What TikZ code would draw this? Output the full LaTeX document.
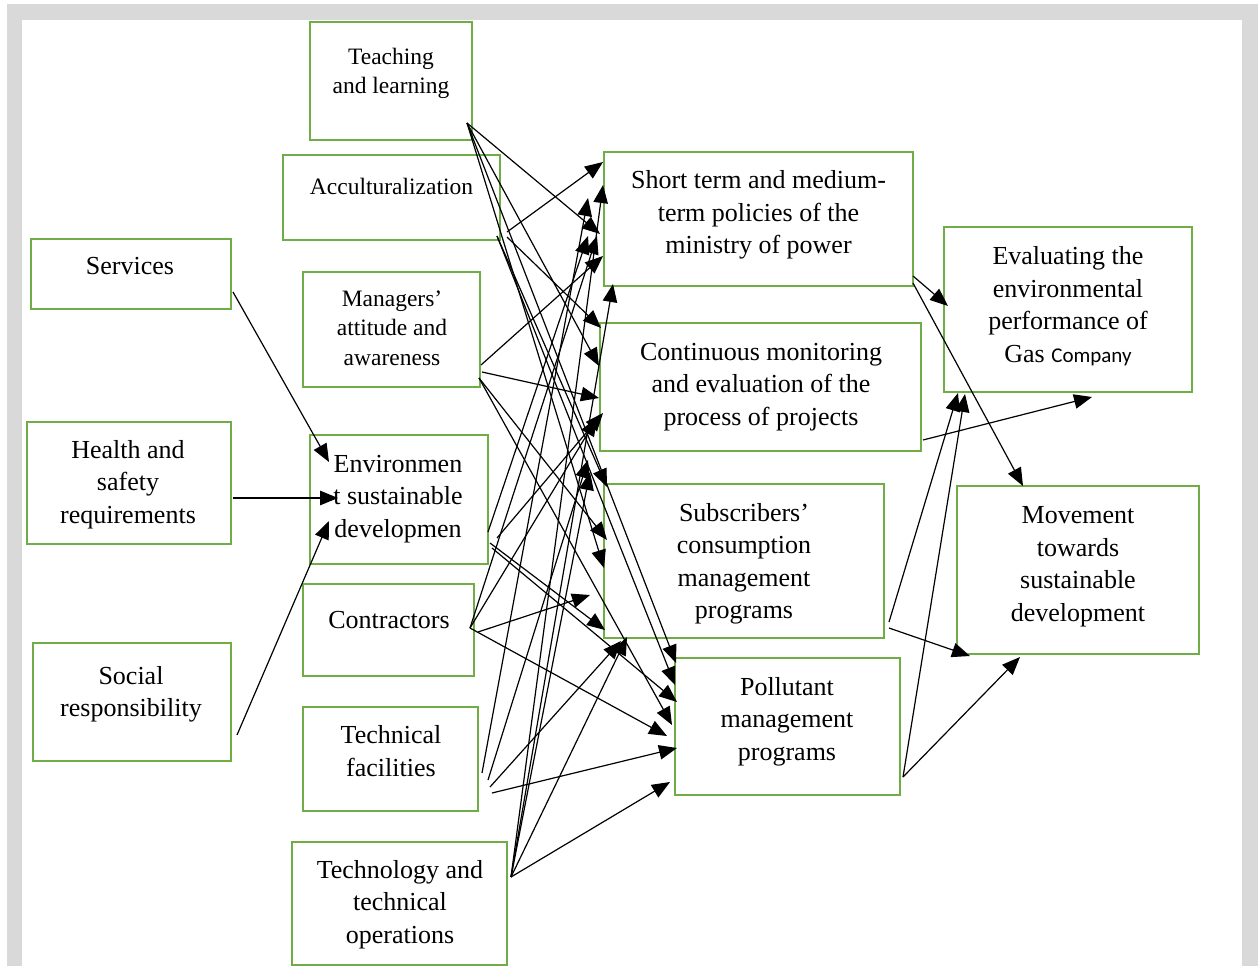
\documentclass[tikz,border=0pt]{standalone}
\usepackage{fontspec}
\setmainfont{Liberation Serif}
\newfontfamily\calib{Carlito}
\usetikzlibrary{arrows.meta}
\definecolor{boxgreen}{RGB}{112,173,71}
\definecolor{framegray}{RGB}{217,217,217}
\begin{document}
\begin{tikzpicture}[x=1pt,y=-1pt,
  box/.style={draw=boxgreen, line width=2.6pt, rectangle, inner sep=0pt},
  big/.style={align=center, font=\fontsize{26}{32.5}\selectfont, inner sep=0pt},
  small/.style={align=center, font=\fontsize{23.5}{29.5}\selectfont, inner sep=0pt},
  arr/.style={-{Triangle[length=18pt,width=14.5pt]}, line width=1.2pt}]
\useasboundingbox (0,0) rectangle (1258,966);
\fill[framegray] (7,4) rectangle (1258,966);
\fill[white] (22,20) rectangle (1242,966);

% boxes
\node[box, minimum width=162pt, minimum height=118pt] (teach) at (391,81) {};
\node[box, minimum width=217pt, minimum height=85pt] (accu) at (391.5,197.5) {};
\node[box, minimum width=200pt, minimum height=70pt] (serv) at (131,274) {};
\node[box, minimum width=177pt, minimum height=115pt] (mana) at (391.5,329.5) {};
\node[box, minimum width=309pt, minimum height=134pt] (short) at (758.5,219) {};
\node[box, minimum width=321pt, minimum height=128pt] (cont) at (760.5,387) {};
\node[box, minimum width=248pt, minimum height=165pt] (eval) at (1068,309.5) {};
\node[box, minimum width=204pt, minimum height=122pt] (health) at (129,483) {};
\node[box, minimum width=178pt, minimum height=129pt] (envi) at (399,499.5) {};
\node[box, minimum width=280pt, minimum height=154pt] (subs) at (744,561) {};
\node[box, minimum width=242pt, minimum height=168pt] (move) at (1078,570) {};
\node[box, minimum width=171pt, minimum height=92pt] (contr) at (388.5,630) {};
\node[box, minimum width=198pt, minimum height=118pt] (social) at (132,702) {};
\node[box, minimum width=225pt, minimum height=137pt] (poll) at (787.5,726.5) {};
\node[box, minimum width=175pt, minimum height=104pt] (tfac) at (390.5,759) {};
\node[box, minimum width=215pt, minimum height=123pt] (tech) at (399.5,903.5) {};

% texts
\node[small] (teachT) at (391,73) {\strut Teaching\\\strut and learning};
\node[small] (accuT) at (391.5,189) {\strut Acculturalization};
\node[big] (servT) at (130,268) {\strut Services};
\node[small] (manaT) at (392,330) {\strut Managers'\\\strut attitude and\\\strut awareness};
\node[big] (shortT) at (758.5,214.5) {\strut Short term and medium-\\\strut term policies of the\\\strut ministry of power};
\node[big] (contT) at (761,386) {\strut Continuous monitoring\\\strut and evaluation of the\\\strut process of projects};
\node[big] (evalT) at (1068,307) {\strut Evaluating the\\\strut environmental\\\strut performance of\\\strut Gas {\calib\fontsize{21}{32.5}\selectfont Company}};
\node[big] (healthT) at (128,484) {\strut Health and\\\strut safety\\\strut requirements};
\node[big] (enviT) at (398,498) {\strut Environmen\\\strut t sustainable\\\strut developmen};
\node[big] (subsT) at (744,563.5) {\strut Subscribers'\\\strut consumption\\\strut management\\\strut programs};
\node[big] (moveT) at (1078,566) {\strut Movement\\\strut towards\\\strut sustainable\\\strut development};
\node[big] (contrT) at (389,622) {\strut Contractors};
\node[big] (socialT) at (131,694) {\strut Social\\\strut responsibility};
\node[big] (pollT) at (787,721) {\strut Pollutant\\\strut management\\\strut programs};
\node[big] (tfacT) at (391,753.5) {\strut Technical\\\strut facilities};
\node[big] (techT) at (400,904) {\strut Technology and\\\strut technical\\\strut operations};

% source points
\coordinate (T) at (467,123);
\coordinate (A1) at (507,232);
\coordinate (A2) at (507,237);
\coordinate (A3) at (497,236);
\coordinate (M1) at (481,365);
\coordinate (M2) at (482,372);
\coordinate (M3) at (479,378);
\coordinate (E1) at (488,532);
\coordinate (E2) at (497,538);
\coordinate (E3) at (490,543);
\coordinate (E4) at (492,548);
\coordinate (C1) at (470,628);
\coordinate (C2) at (478,632);
\coordinate (F1) at (482,773);
\coordinate (F2) at (488,780);
\coordinate (F3) at (490,787);
\coordinate (F4) at (492,793);
\coordinate (G) at (511,877);
\coordinate (Sv) at (233,292);
\coordinate (Hs) at (233,498);
\coordinate (So) at (237,735);
\coordinate (ST1) at (913,276);
\coordinate (ST2) at (913,283);
\coordinate (CO) at (923,440);
\coordinate (SB1) at (889,622);
\coordinate (SB2) at (889,628);
\coordinate (PO) at (903,777);

% target points
\coordinate (ts1) at (603,162);
\coordinate (ts2) at (603,185);
\coordinate (ts3) at (588,198);
\coordinate (ts4) at (600,234);
\coordinate (ts5) at (597,236);
\coordinate (ts6) at (588,236);
\coordinate (ts7) at (603,256);
\coordinate (ts8) at (613,284);
\coordinate (tc1) at (601,328);
\coordinate (tc2) at (599,366);
\coordinate (tc3) at (599,398);
\coordinate (tc4) at (603,413);
\coordinate (tc5) at (597,418);
\coordinate (tc6) at (588,460);
\coordinate (tc7) at (590,472);
\coordinate (tb1) at (607,487);
\coordinate (tb2) at (607,540);
\coordinate (tb3) at (604,568);
\coordinate (tb4) at (590,595);
\coordinate (tb5) at (605,630);
\coordinate (tb6) at (621,641);
\coordinate (tb7) at (627,637);
\coordinate (tp1) at (676,663);
\coordinate (tp2) at (675,685);
\coordinate (tp3) at (677,702);
\coordinate (tp4) at (672,725);
\coordinate (tp5) at (667,736);
\coordinate (tp6) at (677,748);
\coordinate (tp7) at (670,782);
\coordinate (te1) at (948,306);
\coordinate (te2) at (1092,397);
\coordinate (te3) at (958,393);
\coordinate (te4) at (965,394);
\coordinate (tm1) at (1023,486);
\coordinate (tm2) at (970,656);
\coordinate (tm3) at (1020,657);
\coordinate (tv1) at (329,462);
\coordinate (tv2) at (338,498);
\coordinate (tv3) at (329,521);

% left arrows
\draw[arr] (Sv) -- (tv1);
\draw[arr] (Hs) -- (tv2);
\draw[arr] (So) -- (tv3);

% teaching
\draw[arr] (T) -- (ts4);
\draw[arr] (T) -- (tc2);
\draw[arr] (T) -- (tb3);
\draw[arr] (T) -- (tp1);
% acculturalization
\draw[arr] (A1) -- (ts1);
\draw[arr] (A2) -- (tc1);
\draw[arr] (A3) -- (tb1);
\draw[arr] (A3) -- (tp2);
% managers
\draw[arr] (M1) -- (ts7);
\draw[arr] (M2) -- (tc3);
\draw[arr] (M3) -- (tb2);
\draw[arr] (M3) -- (tp4);
% environment
\draw[arr] (E1) -- (ts6);
\draw[arr] (E2) -- (tc4);
\draw[arr] (E3) -- (tb5);
\draw[arr] (E4) -- (tp3);
% contractors
\draw[arr] (C1) -- (ts5);
\draw[arr] (C1) -- (tc5);
\draw[arr] (C2) -- (tb4);
\draw[arr] (C1) -- (tp5);
% technical facilities
\draw[arr] (F1) -- (ts3);
\draw[arr] (F2) -- (tc6);
\draw[arr] (F3) -- (tb6);
\draw[arr] (F4) -- (tp6);
% technology
\draw[arr] (G) -- (ts2);
\draw[arr] (G) -- (ts8);
\draw[arr] (G) -- (tc7);
\draw[arr] (G) -- (tb7);
\draw[arr] (G) -- (tp7);

% right arrows
\draw[arr] (ST1) -- (te1);
\draw[arr] (ST2) -- (tm1);
\draw[arr] (CO) -- (te2);
\draw[arr] (SB1) -- (te3);
\draw[arr] (PO) -- (te4);
\draw[arr] (SB2) -- (tm2);
\draw[arr] (PO) -- (tm3);
\end{tikzpicture}
\end{document}
